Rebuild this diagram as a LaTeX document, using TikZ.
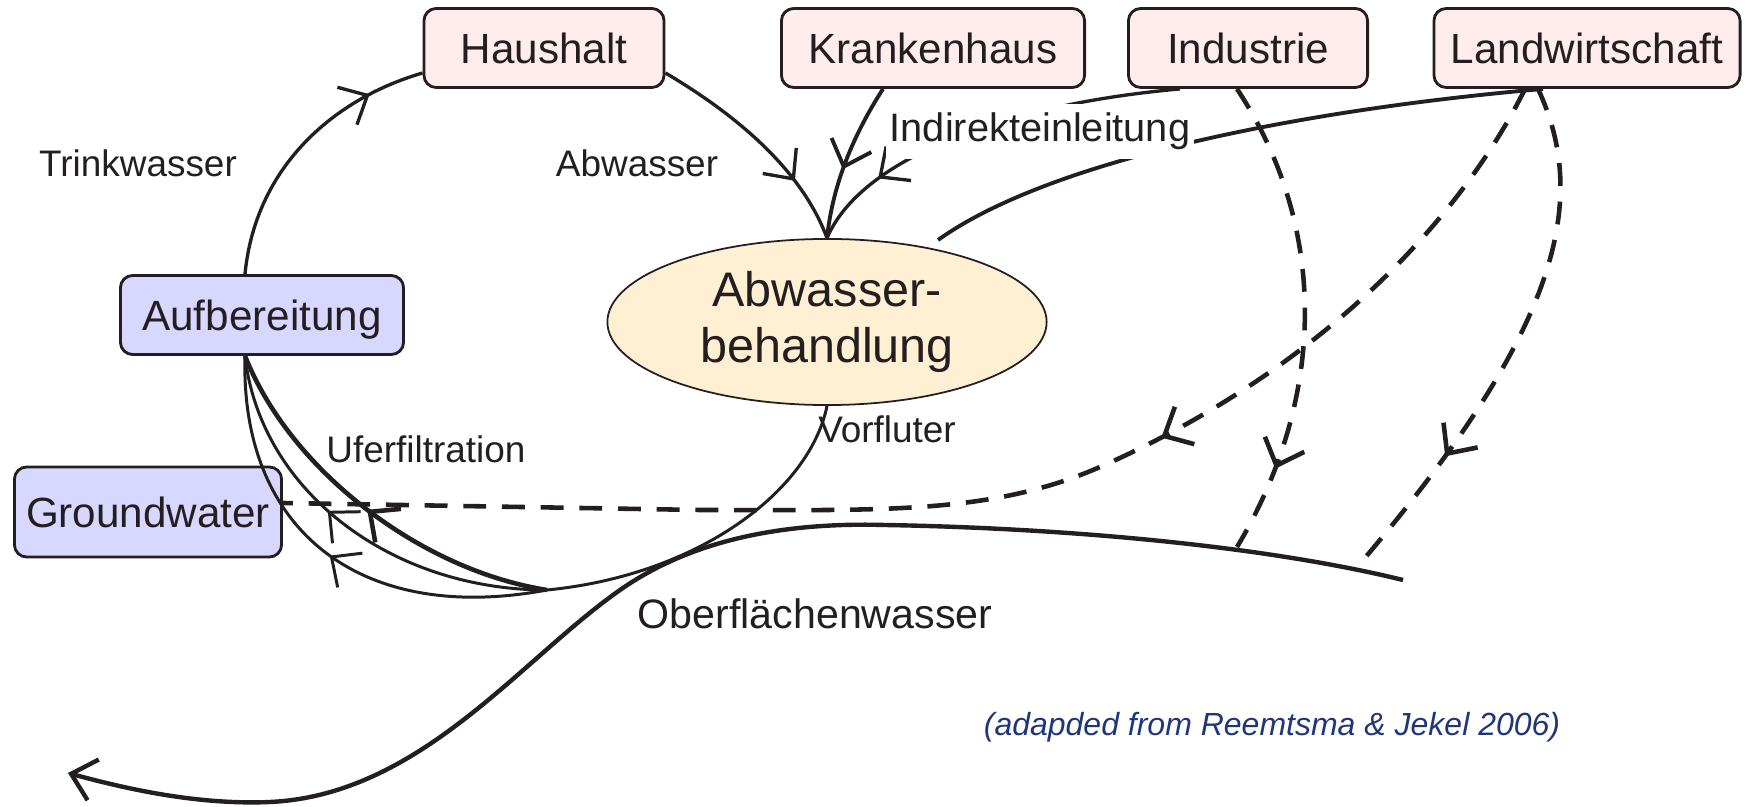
\documentclass[tikz,border=0pt]{standalone}
\usepackage{fontspec}
\setmainfont{Liberation Sans}
\usepackage{tikz}
\usetikzlibrary{shapes.geometric, arrows.meta, decorations.markings, calc}
\definecolor{BoxPink}{RGB}{255,237,237}
\definecolor{BoxLilac}{RGB}{215,215,255}
\definecolor{PlantCream}{RGB}{255,240,212}
\definecolor{InkDark}{RGB}{35,31,32}
\definecolor{CiteBlue}{RGB}{31,55,122}

\begin{document}
\begin{tikzpicture}[
          x=0.01cm, y=-0.01cm,
          src/.style={rectangle, rounded corners=3.5pt, draw=InkDark, line width=0.8pt,
                      fill=BoxPink, text=InkDark, font=\fontsize{12}{14}\selectfont,
                      minimum height=0.79cm, inner sep=0pt, text height=8.6pt, text depth=0pt},
          sink/.style={src, fill=BoxLilac},
          lbl/.style={text=InkDark, font=\fontsize{10.5}{12}\selectfont, anchor=base, inner sep=0pt},
          pipe/.style={draw=InkDark, line width=0.95pt},
          seep/.style={pipe, line width=1.3pt, dash pattern=on 6.5pt off 4.5pt},
          midarrow/.style={postaction={decorate, decoration={markings,
                mark=at position #1 with {\arrow{Straight Barb[length=6.5pt,width=12pt]}}}}}
        ]
        \useasboundingbox (0,0) rectangle (1746,807);

        % Sources along the top
        \node[src, minimum width=2.40cm] (haus) at (544,48) {Haushalt};
        \node[src, minimum width=3.03cm] (kh) at (933,48) {Krankenhaus};
        \node[src, minimum width=2.39cm] (ind) at (1248,48) {Industrie};
        \node[src, minimum width=3.06cm] (lw) at (1587,48) {Landwirtschaft};

        % Water works and groundwater
        \node[sink, minimum width=2.83cm] (auf) at (262,315) {Aufbereitung};
        \node[sink, minimum width=2.67cm, minimum height=0.90cm] (gw) at (148,512) {Groundwater};

        % Treatment plant
        \node[ellipse, draw=InkDark, line width=0.5pt, fill=PlantCream, text=InkDark,
              minimum width=4.39cm, minimum height=1.66cm, inner sep=0pt, align=center,
              font=\fontsize{13.8}{15.9}\selectfont]
              (ell) at (827,322) {Abwasser-\\behandlung};

        % Trinkwasser / Abwasser loop
        \draw[pipe, midarrow=0.8] ($(auf.north)+(-17,0)$)
              .. controls (255,170) and (330,100) .. ($(haus.west)+(0,25)$);
        \draw[pipe, midarrow=0.72] ($(haus.east)+(0,25)$)
              .. controls (728,110) and (800,165) .. (ell.north);

        % Krankenhaus, Industrie, Landwirtschaft to the plant
        \draw[pipe, line width=1.1pt, midarrow=0.56] ($(kh.south)+(-50,0)$)
              .. controls (850,140) and (832,190) .. (ell.north);
        \draw[pipe, midarrow=0.8] ($(ind.south)+(-68,0)$)
              .. controls (1000,105) and (860,160) .. (ell.north);
        \coordinate (lwend) at (938,240);
        \draw[pipe, line width=1.1pt] ($(lw.south)+(-44,0)$)
              .. controls (1300,110) and (1050,160) .. (lwend);

        \node[lbl, font=\fontsize{11.3}{13}\selectfont, fill=white,
              inner xsep=1pt, inner ysep=2.5pt] (indir) at (1040,142) {Indirekteinleitung};

        % River
        \coordinate (rivR) at (1403,580);
        \coordinate (rivL) at (68,773);
        \coordinate (riv1) at (1237,547);
        \coordinate (riv2) at (1358,566);
        \draw[pipe, line width=1.25pt, -{Straight Barb[length=6.5pt,width=12pt]}] (rivR)
              .. controls (1260,545) and (1060,528) .. (885,525)
              .. controls (780,522) and (690,541) .. (620,590)
              .. controls (520,660) and (420,795) .. (270,802)
              .. controls (200,805) and (130,790) .. (rivL);

        % Diffuse inputs
        \draw[seep, midarrow=0.82] ($(ind.south)+(-11,0)$)
              .. controls (1330,230) and (1325,400) .. (riv1);
        \draw[seep, midarrow=0.365] ($(lw.south)+(-62,0)$)
              .. controls (1460,220) and (1320,370) .. (1100,467)
              .. controls (990,515) and (880,510) .. (700,510)
              -- ($(gw.east)+(0,-9)$);
        \draw[seep, midarrow=0.74] ($(lw.south)+(-49,0)$)
              .. controls (1590,200) and (1560,330) .. (riv2);

        % Vorfluter and bank filtration
        \coordinate (ufer) at (547,590);
        \coordinate (aufin) at ($(auf.south)+(-17,0)$);
        \draw[pipe, line width=0.85pt] (ell.south)
              .. controls (810,490) and (700,575) .. (ufer);
        \draw[pipe, line width=1.3pt, midarrow=0.5] (ufer)
              .. controls (420,570) and (290,470) .. (aufin);
        \draw[pipe, line width=0.85pt, midarrow=0.57] (ufer)
              .. controls (390,590) and (260,490) .. (aufin);
        \draw[pipe, line width=0.85pt, midarrow=0.5] (ufer)
              .. controls (360,625) and (240,530) .. (aufin);

        % Labels
        \node[lbl] (trink) at (138,177) {Trinkwasser};
        \node[lbl] (abw) at (637,177) {Abwasser};
        \node[lbl] (uferl) at (426,463) {Uferfiltration};
        \node[lbl] (vorf) at (887,443) {Vorfluter};
        \node[lbl, font=\fontsize{11.7}{14}\selectfont] (ober) at (815,628) {Oberflächenwasser};
        \node[lbl, text=CiteBlue, font=\fontsize{9.1}{11}\selectfont\itshape]
              (cite) at (1272,735) {(adapded from Reemtsma \& Jekel 2006)};
\end{tikzpicture}
\end{document}
